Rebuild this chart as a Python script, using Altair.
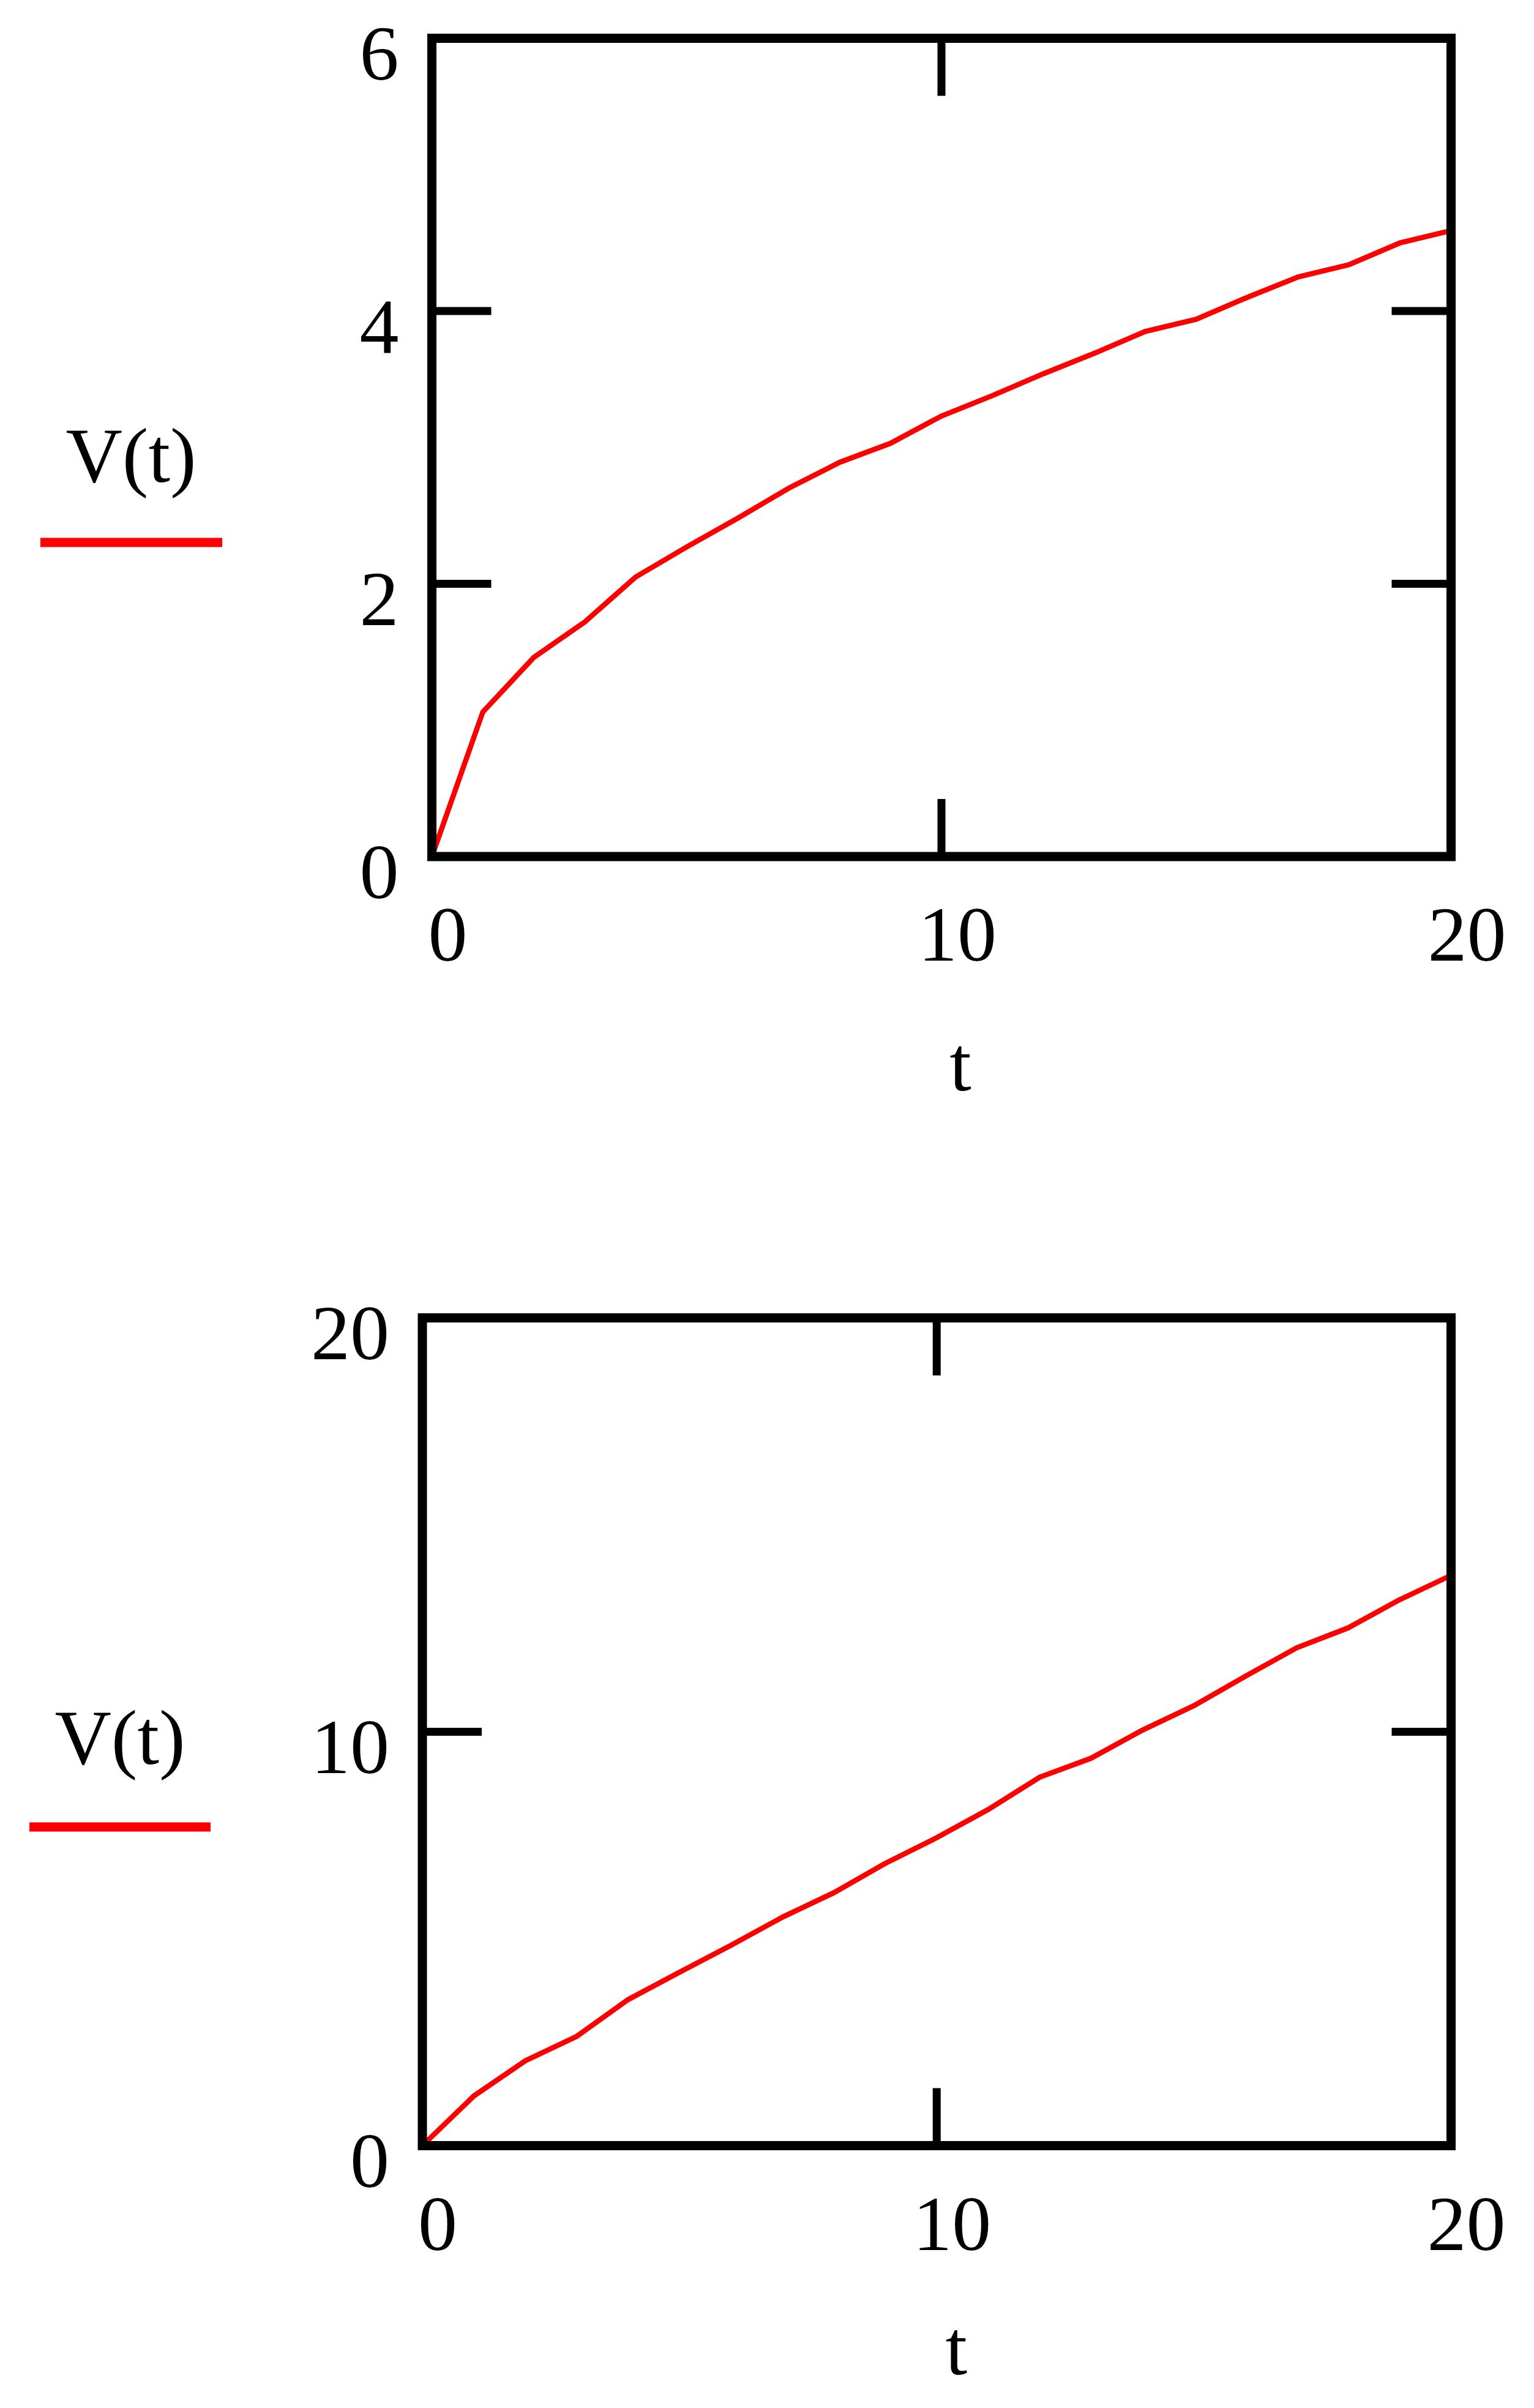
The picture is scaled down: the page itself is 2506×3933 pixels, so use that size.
import altair as alt
import pandas as pd

# ---- data ----
t_vals = list(range(21))
v_top = [0, 1.06, 1.46, 1.72, 2.05, 2.27, 2.48, 2.70, 2.89, 3.03, 3.23,
         3.38, 3.54, 3.69, 3.85, 3.94, 4.10, 4.25, 4.34, 4.50, 4.59]
v_bottom = [0, 1.20, 2.05, 2.64, 3.53, 4.19, 4.84, 5.52, 6.11, 6.82, 7.44,
            8.12, 8.90, 9.36, 10.04, 10.63, 11.34, 12.03, 12.51, 13.19, 13.78]

x_label_values = [0, 10, 20]
x_inner_ticks = [10]
top_y_max = 6
top_y_labels = [0, 2, 4, 6]
top_y_inner = [2, 4]
bottom_y_max = 20
bottom_y_labels = [0, 10, 20]
bottom_y_inner = [10]
x_title = ["t"]
y_title = ["V(t)"]

FONT = "Liberation Serif"
FS = 128
RED = "#ff0000"
FRAME_W = 15
TICK_W = 13
X_TICK_LEN = 94
Y_TICK_LEN = 97


def make_panel(values, y_max, y_labels, y_inner, x_rng, y_rng, xlab_dx,
               t_dx, t_dy, vt_x, vt_y, ul_x1, ul_x2, ul_y):
    """x_rng = [left, right] px, y_rng = [bottom, top] px of the frame."""
    def xs():
        return alt.Scale(domain=[0, 20], range=x_rng, nice=False, zero=False)

    def ys():
        return alt.Scale(domain=[0, y_max], range=y_rng, nice=False, zero=False)

    left, right = x_rng
    bottom, top = y_rng
    layers = []

    # curve
    df = pd.DataFrame({"t": t_vals, "V": values})
    layers.append(alt.Chart(df).mark_line(color=RED, strokeWidth=8.5).encode(
        x=alt.X("t:Q", scale=xs(), axis=None),
        y=alt.Y("V:Q", scale=ys(), axis=None)))

    # frame
    fr = pd.DataFrame({"t0": [0], "t1": [20], "v0": [0], "v1": [y_max]})
    layers.append(alt.Chart(fr).mark_rect(
        fill="white", fillOpacity=0, stroke="black", strokeWidth=FRAME_W,
        strokeJoin="miter").encode(
        x=alt.X("t0:Q", scale=xs(), axis=None), x2="t1:Q",
        y=alt.Y("v0:Q", scale=ys(), axis=None), y2="v1:Q"))

    # inner ticks on x (top and bottom edges)
    xt = pd.DataFrame({"t": x_inner_ticks})
    for a, b in [(top, top + X_TICK_LEN), (bottom - X_TICK_LEN, bottom)]:
        layers.append(alt.Chart(xt).mark_rule(color="black", strokeWidth=TICK_W).encode(
            x=alt.X("t:Q", scale=xs(), axis=None),
            y=alt.value(a), y2=alt.value(b)))

    # inner ticks on y (left and right edges)
    yt = pd.DataFrame({"V": y_inner})
    for a, b in [(left, left + Y_TICK_LEN), (right - Y_TICK_LEN, right)]:
        layers.append(alt.Chart(yt).mark_rule(color="black", strokeWidth=TICK_W).encode(
            y=alt.Y("V:Q", scale=ys(), axis=None),
            x=alt.value(a), x2=alt.value(b)))

    # x tick labels
    xl = pd.DataFrame({"t": x_label_values,
                       "lab": [str(v) for v in x_label_values]})
    layers.append(alt.Chart(xl).mark_text(
        font=FONT, fontSize=FS, color="black", align="center",
        baseline="alphabetic", dx=xlab_dx, dy=170).encode(
        x=alt.X("t:Q", scale=xs(), axis=None),
        y=alt.YDatum(0, scale=ys(), axis=None),
        text="lab:N"))

    # y tick labels
    yl = pd.DataFrame({"V": y_labels, "lab": [str(v) for v in y_labels]})
    layers.append(alt.Chart(yl).mark_text(
        font=FONT, fontSize=FS, color="black", align="right",
        baseline="alphabetic", dx=-54, dy=67.5).encode(
        x=alt.XDatum(0, scale=xs(), axis=None),
        y=alt.Y("V:Q", scale=ys(), axis=None),
        text="lab:N"))

    # x title "t"
    xtl = pd.DataFrame({"t": [10], "lab": x_title})
    layers.append(alt.Chart(xtl).mark_text(
        font=FONT, fontSize=FS, color="black", align="center",
        baseline="alphabetic", dx=t_dx, dy=t_dy).encode(
        x=alt.X("t:Q", scale=xs(), axis=None),
        y=alt.YDatum(0, scale=ys(), axis=None),
        text="lab:N"))

    # y title "V(t)" with its red legend line underneath
    ytl = pd.DataFrame({"lab": y_title})
    layers.append(alt.Chart(ytl).mark_text(
        font=FONT, fontSize=FS, color="black", align="center",
        baseline="alphabetic").encode(
        x=alt.value(vt_x), y=alt.value(vt_y), text="lab:N"))
    layers.append(alt.Chart(ytl).mark_rule(color=RED, strokeWidth=15).encode(
        x=alt.value(ul_x1), x2=alt.value(ul_x2), y=alt.value(ul_y)))
    return layers


top_layers = make_panel(v_top, top_y_max, top_y_labels, top_y_inner,
                        [697.5, 2362.5], [1391, 54.5], 26, 31, 382,
                        206, 779, 58, 355, 878)
bottom_layers = make_panel(v_bottom, bottom_y_max, bottom_y_labels, bottom_y_inner,
                           [682, 2362.5], [3496.5, 2144.5], 25, 32, 373,
                           188, 2873, 40, 336, 2976)

chart = alt.layer(*(top_layers + bottom_layers)).resolve_scale(
    x="independent", y="independent"
).properties(
    width=2490, height=3910, padding=0,
    autosize=alt.AutoSizeParams(type="none"),
).configure_view(strokeWidth=0)

chart.save("out.html", embed_options={"renderer": "svg", "actions": False})
